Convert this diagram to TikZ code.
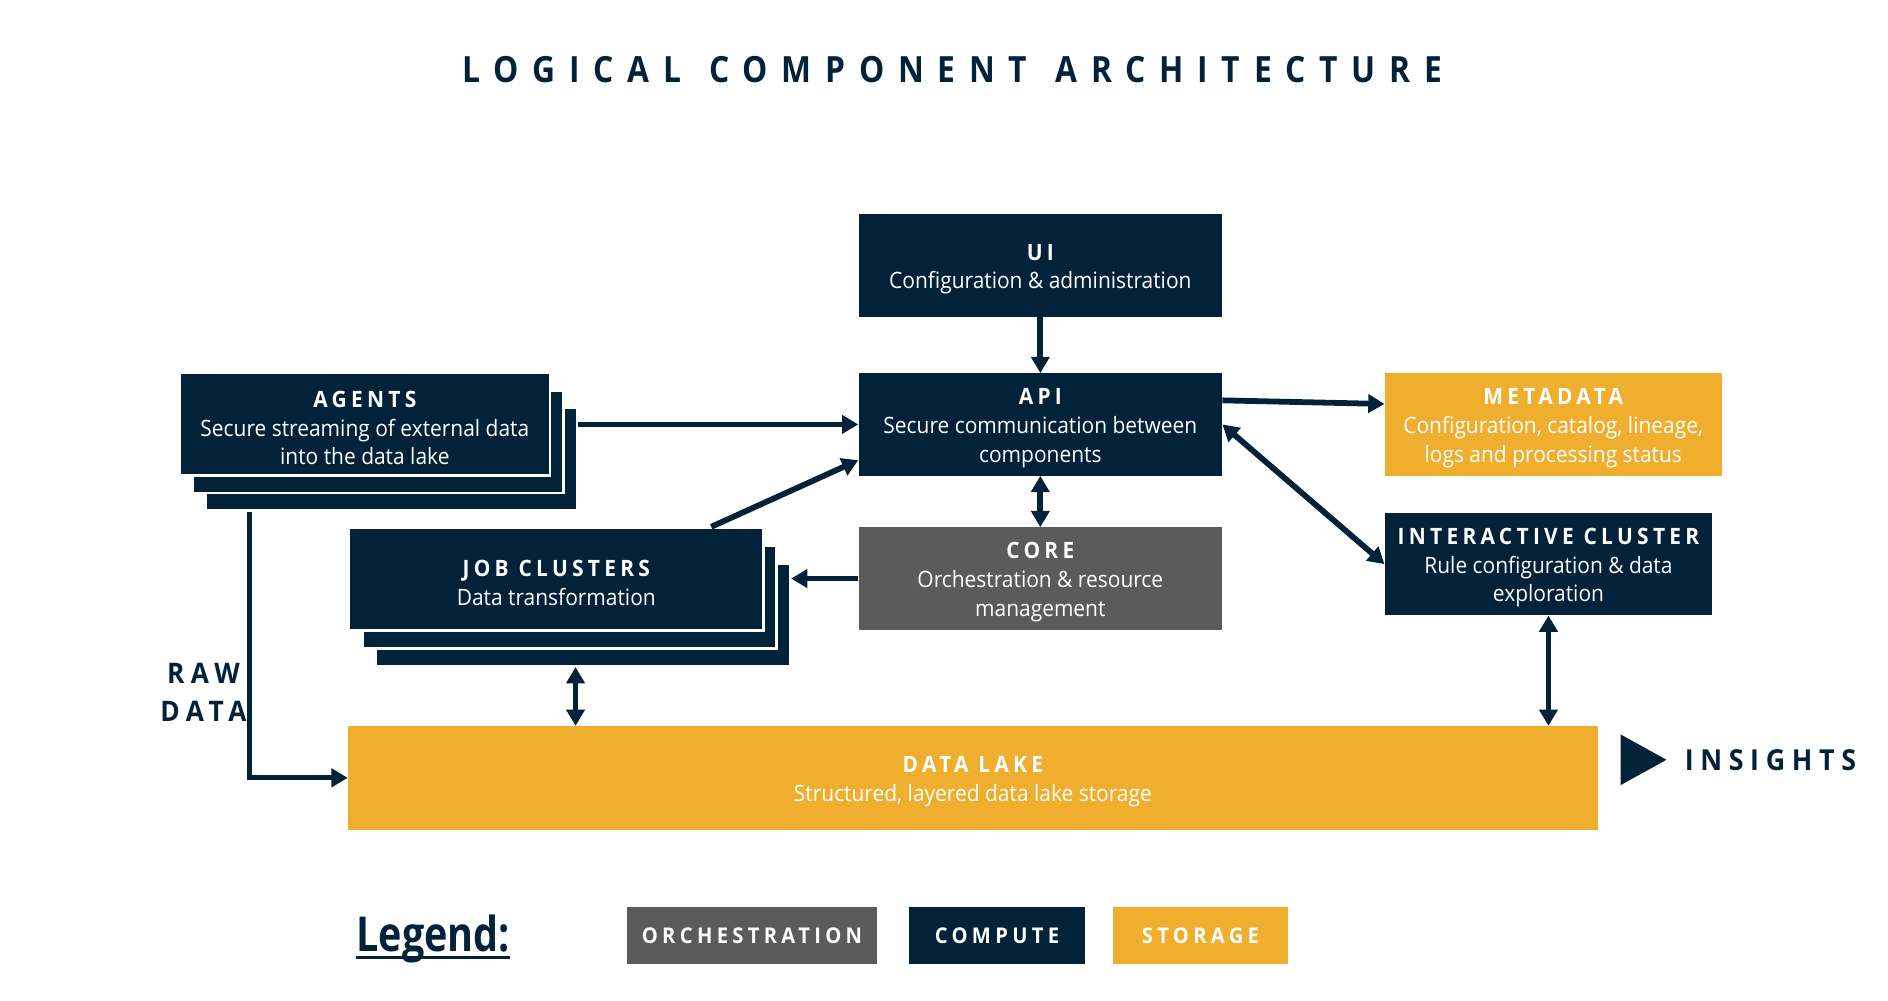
\documentclass[tikz,border=0pt]{standalone}
\usepackage{fontspec}
\setmainfont{Open Sans}[FakeStretch=0.93]
\newfontfamily\hdfont{Open Sans}[FakeStretch=0.93,LetterSpace=19]
\newfontfamily\lblfont{Open Sans}[FakeStretch=0.93,LetterSpace=23]
\newfontfamily\legtxtfont{Open Sans}[FakeStretch=0.93,LetterSpace=20]
\newfontfamily\ttlfont{Open Sans}[FakeStretch=0.88,LetterSpace=38]
\newfontfamily\legfont{Open Sans}[FakeStretch=0.82]
\usetikzlibrary{arrows.meta,calc}
\definecolor{navy}{RGB}{2,34,58}
\definecolor{midgray}{RGB}{91,91,91}
\definecolor{amber}{RGB}{240,174,46}
\newcommand\hd[1]{\rule{0pt}{19.4pt}{\hdfont\bfseries #1}}
\tikzset{
  box/.style={rectangle, inner sep=0pt, text=white, align=center,
    font=\fontsize{18.7}{24}\selectfont},
  cbox/.style={box, fill=navy},
  obox/.style={box, fill=amber},
  gbox/.style={box, fill=midgray},
  stk/.style={cbox, draw=white, line width=2pt},
  tip/.tip={Triangle[length=13.5pt,width=15pt]},
  arr/.style={line width=4.8pt, draw=navy, -tip},
  darr/.style={line width=4.8pt, draw=navy, tip-tip},
  lbl/.style={text=navy, inner sep=0pt},
  legbox/.style={rectangle, inner sep=0pt, minimum height=48pt, text=white,
    font=\fontsize{18}{22}\selectfont\legtxtfont\bfseries}
}
\begin{document}
\begin{tikzpicture}[x=1pt,y=-1pt]
\useasboundingbox (0,0) rectangle (1568,831.3);
% title
\node[lbl, font=\fontsize{30}{36}\selectfont\ttlfont\bfseries] (title) at (791,58) {LOGICAL\hspace{5pt} COMPONENT\hspace{5pt} ARCHITECTURE};
% main boxes
\node[cbox, minimum width=302pt, minimum height=85pt] (ui) at (864,220.5) {\hd{UI}\\Configuration \& administration};
\node[cbox, minimum width=302pt, minimum height=85pt] (api) at (864,352.5) {\hd{API}\\Secure communication between\\components};
\node[gbox, minimum width=302pt, minimum height=85pt] (core) at (864,480.5) {\hd{CORE}\\Orchestration \& resource\\management};
\node[obox, minimum width=280pt, minimum height=85pt] (meta) at (1290,352.5) {\hd{METADATA}\\Configuration, catalog, lineage,\\logs and processing status};
\node[cbox, minimum width=272pt, minimum height=85pt] (inter) at (1286,468.5) {\hd{INTERACTIVE CLUSTER}\\Rule configuration \& data\\exploration};
% agents stack
\node[stk, minimum width=308pt, minimum height=85pt] (agents3) at (325,381.5) {};
\node[stk, minimum width=308pt, minimum height=85pt] (agents2) at (314,367) {};
\node[stk, minimum width=308pt, minimum height=85pt] (agents) at (303,352.5) {\hd{AGENTS}\\Secure streaming of external data\\into the data lake};
% job clusters stack
\node[stk, minimum width=344pt, minimum height=85pt] (job3) at (484,510.5) {};
\node[stk, minimum width=344pt, minimum height=85pt] (job2) at (473,496) {};
\node[stk, minimum width=344pt, minimum height=85pt] (job) at (462,481) {\hd{JOB CLUSTERS}\\Data transformation};
% data lake
\node[obox, minimum width=1038pt, minimum height=86pt] (lake) at (808,646) {\hd{DATA LAKE}\\Structured, layered data lake storage};
% insights
\fill[navy] (1346,610) -- (1384,631) -- (1346,652) -- cycle;
\node[lbl, anchor=west, font=\fontsize{24}{28}\selectfont\lblfont\bfseries] (insights) at (1399,631) {INSIGHTS};
% raw data
\node[lbl, align=center, font=\fontsize{23.5}{31}\selectfont\lblfont\bfseries] (raw) at (169,575) {RAW\\DATA};
% connectors
\draw[arr] (ui) -- (api);
\draw[arr] (agents3.east |- api.west) -- (api.west);
\draw[arr] ($(job.north west)!0.872!(job.north east)$) -- ($(api.south west)+(0,-13)$);
\draw[darr] (api) -- (core);
\draw[arr] (core.west) -- (core.west -| job3.east);
\draw[arr] ($(api.east)+(0,-20)$) -- ($(meta.west)+(0,-17)$);
\draw[darr] (api.east) -- (inter.west);
\coordinate (jl) at ($(job3.south)+(-6,0)$);
\draw[darr] (jl) -- (jl |- lake.north);
\draw[darr] (inter.south) -- (inter.south |- lake.north);
\coordinate (rd) at ($(agents3.south west)+(37,0)$);
\draw[arr, line width=4pt, line join=miter] (rd) |- (lake.west);
% legend
\node[lbl, anchor=base west, font=\fontsize{40}{44}\selectfont\legfont\bfseries] (leg) at (296,790) {Legend:};
\draw[navy, line width=2.6pt] ($(leg.base west)+(0,5)$) -- ($(leg.base east)+(0,5)$);
\node[legbox, fill=midgray, minimum width=207pt] (lorch) at (624.5,777) {ORCHESTRATION};
\node[legbox, fill=navy, minimum width=146pt] (lcomp) at (828,777) {COMPUTE};
\node[legbox, fill=amber, minimum width=146pt] (lstor) at (997,777) {STORAGE};
\end{tikzpicture}
\end{document}
